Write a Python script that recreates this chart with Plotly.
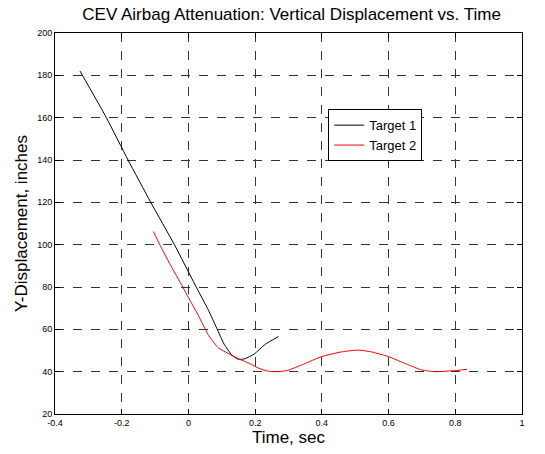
import plotly.graph_objects as go

# Data
t1 = [-0.325, -0.246, -0.181, -0.113, -0.042, 0.020, 0.060, 0.085, 0.107, 0.130, 0.150,
      0.169, 0.197, 0.230, 0.270]
y1 = [182, 160, 140, 120, 100, 81, 69, 60.5, 53, 47.9, 45.8,
      46.1, 48.3, 52.9, 56.6]

t2 = [-0.105, -0.086, -0.056, -0.017, 0.000, 0.030, 0.059, 0.088, 0.126, 0.154, 0.183,
      0.211, 0.240, 0.269, 0.297, 0.346, 0.399, 0.461, 0.509, 0.547, 0.600, 0.653,
      0.700, 0.739, 0.800, 0.835]
y2 = [106.2, 100, 91, 80, 75, 66.5, 57.5, 51.5, 48.0, 45.8, 43.9,
      41.6, 40.2, 40, 40.6, 43.6, 47.1, 49.4, 50.2, 49.4, 47.1, 43.6,
      40.8, 40, 40.5, 41.1]

xticks = [-0.4, -0.2, 0, 0.2, 0.4, 0.6, 0.8, 1]
xticklabels = ["-0.4", "-0.2", "0", "0.2", "0.4", "0.6", "0.8", "1"]
yticks = [20, 40, 60, 80, 100, 120, 140, 160, 180, 200]
yticklabels = [str(v) for v in yticks]

FONT = "Arial, Liberation Sans, sans-serif"

fig = go.Figure()
fig.add_trace(go.Scatter(x=t1, y=y1, mode="lines", name="Target 1",
                         line=dict(color="black", width=1, shape="spline", smoothing=0.5)))
fig.add_trace(go.Scatter(x=t2, y=y2, mode="lines", name="Target 2",
                         line=dict(color="red", width=1, shape="spline", smoothing=0.5)))

axis_common = dict(showline=True, linecolor="black", linewidth=1, mirror="ticks",
                   ticks="inside", ticklen=5, tickcolor="black",
                   showgrid=True, gridcolor="#333333", gridwidth=1, griddash="dash",
                   zeroline=False, tickfont=dict(family=FONT, size=9, color="black"))

fig.update_layout(
    width=545, height=454,
    margin=dict(l=55, r=23, t=33, b=40),
    paper_bgcolor="white", plot_bgcolor="white",
    font=dict(family=FONT, color="black"),
    title=dict(text="CEV Airbag Attenuation: Vertical Displacement vs. Time",
               x=0.535, xanchor="center", y=0.97, yanchor="middle",
               font=dict(family=FONT, size=17, color="black")),
    xaxis=dict(range=[-0.4, 1], tickvals=xticks, ticktext=xticklabels,
               title=dict(text="Time, sec", font=dict(family=FONT, size=17), standoff=3),
               **axis_common),
    yaxis=dict(range=[20, 200], tickvals=yticks, ticktext=yticklabels,
               title=dict(text="Y-Displacement, inches", font=dict(family=FONT, size=17), standoff=5),
               **axis_common),
    legend=dict(x=0.585, y=0.80, xanchor="left", yanchor="top",
                bgcolor="white", bordercolor="black", borderwidth=1,
                font=dict(family=FONT, size=13, color="black"),
                tracegroupgap=0, itemwidth=30),
    showlegend=True,
)

fig.write_html("out.html")
